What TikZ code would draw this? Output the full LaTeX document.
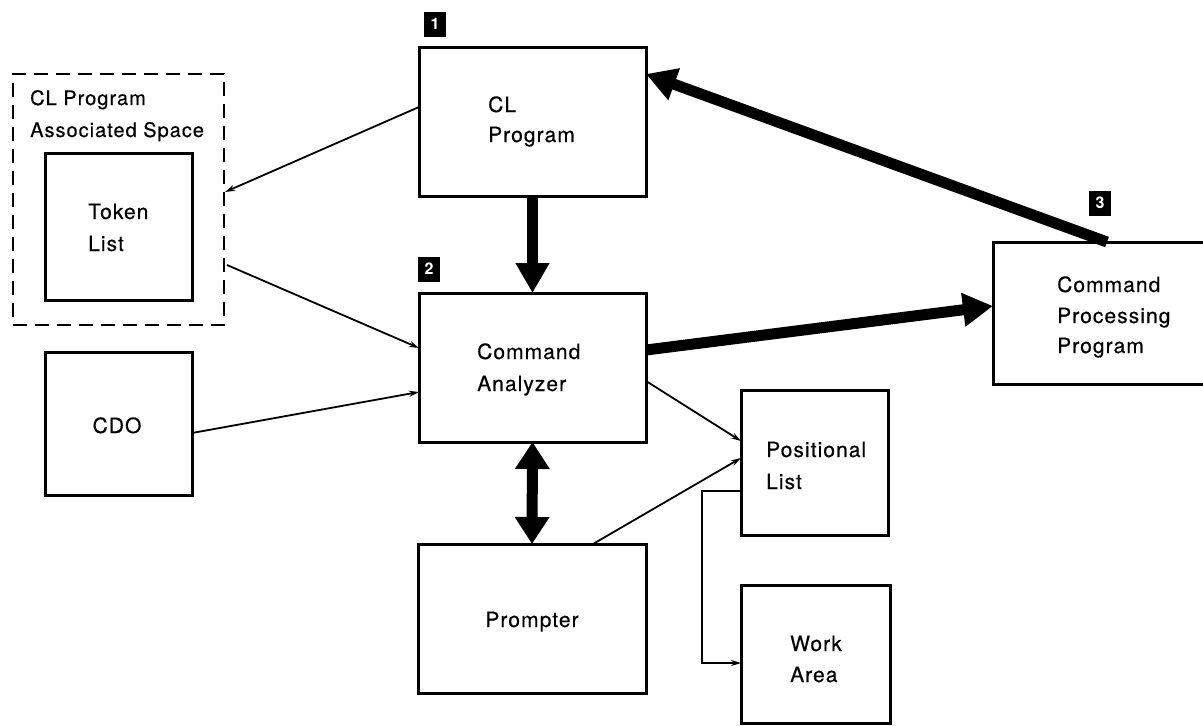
\documentclass[tikz,border=0pt]{standalone}
\usepackage{fontspec}
\setmainfont{TeX Gyre Heros}
\newfontfamily\lblfont{TeX Gyre Heros}[LetterSpace=5,FakeBold=0.4]
\usetikzlibrary{arrows.meta,calc}

\begin{document}
\begin{tikzpicture}[x=1pt,y=-1pt,
  box/.style={draw, line width=3pt, inner sep=0pt, outer sep=0pt},
  areabox/.style={draw, line width=2pt, dash pattern=on 14pt off 8pt, inner sep=0pt, outer sep=0pt},
  lbl/.style={font=\lblfont\fontsize{21}{24}\selectfont, inner sep=0pt},
  smalllbl/.style={font=\lblfont\fontsize{20}{24}\selectfont, inner sep=0pt},
  marker/.style={fill=black, text=white, font=\bfseries\fontsize{16}{16}\selectfont,
                 minimum width=22pt, minimum height=25pt, inner sep=0pt},
  link/.style={line width=1.8pt, -{Stealth[length=10pt,width=6pt]}},
  flow/.style={line width=11pt, -{Triangle[length=30pt,width=32pt]}},
  flowboth/.style={line width=11pt, {Triangle[length=27pt,width=33pt]}-{Triangle[length=27pt,width=33pt]}},
]
\path[use as bounding box, clip] (0,0) rectangle (1203,726);

% boxes
\node[box, minimum width=227pt, minimum height=149pt] (clp) at (532.5,121.5) {};
\node[box, minimum width=227pt, minimum height=149pt] (ana) at (532.5,367.5) {};
\node[box, minimum width=228pt, minimum height=149pt] (prm) at (532,618.5) {};
\node[areabox, minimum width=211pt, minimum height=251pt] (area) at (118.5,199.5) {};
\node[box, minimum width=147pt, minimum height=147pt] (tok) at (118.5,226.5) {};
\node[box, minimum width=147pt, minimum height=143pt] (cdo) at (118.5,423.5) {};
\node[box, minimum width=147pt, minimum height=145pt] (pos) at (814.5,462.5) {};
\node[box, minimum width=149pt, minimum height=138pt] (work) at (815.5,654) {};
\node[box, minimum width=222pt, minimum height=142pt] (cpp) at (1104,313) {};

% texts
\node[lbl, anchor=base west] (clpa) at (488,112) {CL};
\node[lbl, anchor=base west] (clpb) at (488,142) {Program};
\node[smalllbl, anchor=base west] (areaa) at (30,105) {CL Program};
\node[smalllbl, anchor=base west] (areab) at (30,137) {Associated Space};
\node[lbl, anchor=base west] (toka) at (88,219) {Token};
\node[lbl, anchor=base west] (tokb) at (88,251) {List};
\node[lbl, anchor=base west] (anaa) at (477,359) {Command};
\node[lbl, anchor=base west] (anab) at (477,391) {Analyzer};
\node[lbl, anchor=base] (cdoa) at (117,433) {CDO};
\node[lbl, anchor=base] (prma) at (532,627) {Prompter};
\node[lbl, anchor=base west] (posa) at (766,457) {Positional};
\node[lbl, anchor=base west] (posb) at (766,489) {List};
\node[lbl, anchor=base west] (worka) at (790,651) {Work};
\node[lbl, anchor=base west] (workb) at (790,682) {Area};
\node[lbl, anchor=base west] (cppa) at (1057,292) {Command};
\node[lbl, anchor=base west] (cppb) at (1057,323) {Processing};
\node[lbl, anchor=base west] (cppc) at (1057,353) {Program};

% step markers
\node[marker] (m1) at (435,24) {1};
\node[marker] (m2) at (429,269) {2};
\node[marker] (m3) at (1100,203) {3};

% thin data links
\draw[link] ($(clp.west)+(0,-14.5)$) -- ($(area.east)+(1,-7.5)$);
\draw[link] ($(area.east)+(3,65.5)$) -- ($(ana.west)+(0,-19.5)$);
\draw[link] ($(cdo.east)+(0,9.5)$) -- ($(ana.west)+(0,24.5)$);
\draw[link] ($(ana.east)+(0,13.5)$) -- ($(pos.west)+(0,-21.5)$);
\draw[link] ($(prm.north)+(61,0)$) -- ($(pos.west)+(0,-4.5)$);
\coordinate (e1) at ($(pos.west)+(0,28.5)$);
\coordinate (e2) at ($(work.west)+(0,9)$);
\draw[link] (e1) -- ++(-39,0) |- (e2);

% heavy control flow
\draw[flow] (clp.south) -- (ana.north);
\draw[flowboth] (ana.south) -- (prm.north);
\draw[flow] ($(ana.east)+(0,-17.5)$) -- ($(cpp.west)+(0,-7)$);
\draw[flow] ($(cpp.north)+(3,0)$) -- ($(clp.east)+(0,-47.5)$);
\end{tikzpicture}
\end{document}
